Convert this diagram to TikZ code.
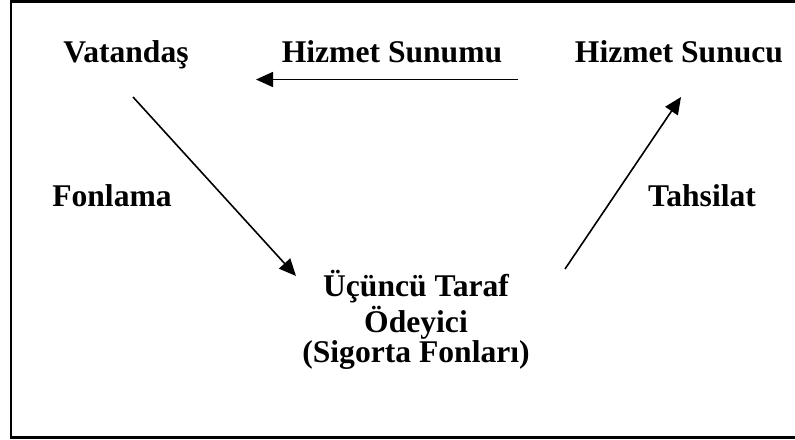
\documentclass[tikz,border=0pt]{standalone}
\usepackage{fontspec}
\setmainfont{Liberation Serif}
\usetikzlibrary{arrows.meta}
\tikzset{
  label/.style={anchor=base, inner sep=0pt, font=\fontsize{31.6}{32}\selectfont\bfseries},
  flow/.style={line width=1.6pt, -{Triangle[length=17pt,width=15pt]}},
  frame/.style={line width=2.6pt}
}
\begin{document}
\begin{tikzpicture}[x=1pt,y=-1pt]
  \useasboundingbox (0,0) rectangle (795,439);
  \clip (0,0) rectangle (795,439);
  % open frame: top, left and bottom edges
  \draw[frame] (805,1.2) -- (11,1.2) -- (11,437.5) -- (805,437.5);

  % actors and labels
  \node[label] (vat) at (126,62) {Vatandaş};
  \node[label] (sunum) at (392,62) {Hizmet Sunumu};
  \node[label] (sunucu) at (679,62) {Hizmet Sunucu};
  \node[label] (fon) at (112,206) {Fonlama};
  \node[label] (tah) at (702,206) {Tahsilat};
  \node[label, align=center, anchor=base] (odeyici) at (416,362)
    {Üçüncü Taraf\\[2pt]Ödeyici~\\[-2pt](Sigorta Fonları)};

  % connector ends
  \coordinate (sunumA) at (518,79.5);
  \coordinate (sunumB) at (256,79.5);
  \coordinate (fonA) at (133,97);
  \coordinate (fonB) at (296,276);
  \coordinate (tahA) at (565,269);
  \coordinate (tahB) at (681,97);

  \draw[flow] (sunumA) -- (sunumB);
  \draw[flow] (fonA) -- (fonB);
  \draw[flow] (tahA) -- (tahB);
\end{tikzpicture}
\end{document}
